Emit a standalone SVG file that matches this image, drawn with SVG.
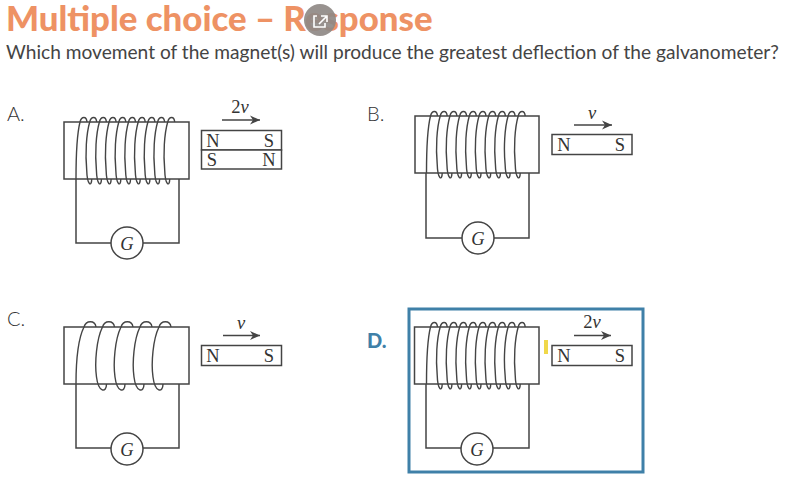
<svg xmlns="http://www.w3.org/2000/svg" width="800" height="492" viewBox="0 0 800 492">
<style>
.ln{fill:none;stroke:#444;stroke-width:1.5}
.box{fill:#fff;stroke:#444;stroke-width:1.5}
.coil{fill:none;stroke:#444;stroke-width:1.4}
.sr{font-family:"Liberation Serif",serif;font-size:18.5px;fill:#333;text-anchor:middle}
.it{font-style:italic}
.opt{font-family:Lato,"Liberation Sans",sans-serif;font-size:20px;font-weight:300;fill:#333}
</style>
<defs>
<marker id="ah" markerWidth="12" markerHeight="10" refX="10" refY="5" orient="auto" markerUnits="userSpaceOnUse"><path d="M0,0.500 L10,5 L0,9.500 L3,5 Z" fill="#444"/></marker>
<path id="t" d="M3.500,0 C3,-6 -2,-6 -3.500,0 C-7,12 -8,32 -6.500,48 C-6,64 -1.500,65 -1.500,57"/>
<path id="t1" d="M3.500,0 C3,-6 -2,-6 -3.500,0 C-7,14 -7.500,36 -7.500,57"/>
<path id="w" d="M6,0 C5,-7 -4,-7 -6,0 C-12,12 -14,36 -12,50 C-10,66 -2,66 -2,57"/>
<path id="w1" d="M6,0 C5,-7 -4,-7 -6,0 C-12,12 -14,36 -14,57"/>
<g id="dense" class="coil">
<use href="#t1" x="83.500"/><use href="#t" x="93.200"/><use href="#t" x="102.900"/><use href="#t" x="112.600"/><use href="#t" x="122.300"/><use href="#t" x="132"/><use href="#t" x="141.700"/><use href="#t" x="151.400"/><use href="#t" x="161.100"/><use href="#t" x="171.200"/>
</g>
<g id="sparse" class="coil">
<use href="#w1" x="90"/><use href="#w" x="108.500"/><use href="#w" x="127"/><use href="#w" x="146"/><use href="#w" x="165"/>
</g>
</defs>
<rect width="800" height="492" fill="#fff"/>
<text id="title" x="6" y="31" font-family="Lato,'Liberation Sans',sans-serif" font-size="34.800" font-weight="900" fill="#ee9264">Multiple choice – Response</text>
<text id="question" x="6" y="59" font-family="Lato,'Liberation Sans',sans-serif" font-size="19.150" fill="#444">Which movement of the magnet(s) will produce the greatest deflection of the galvanometer?</text>
<g id="icon"><circle cx="320" cy="20" r="16" fill="#8f8985" fill-opacity="0.92"/><path d="M317,16 H314 V27 H325 V23 M319,24 L326,17 M321,16 H327 V22" fill="none" stroke="#fff" stroke-width="1.600"/></g>
<g id="connectors">
<path class="ln" d="M76,179 V243 H111 M143,243 H179 V179"/>
<path class="ln" d="M426,173 V238 H462 M494,238 H529 V173"/>
<path class="ln" d="M76,384 V448 H111 M143,448 H179 V384"/>
<path class="ln" d="M426,384 V448 H461 M493,448 H529 V384"/>
<path class="ln" marker-end="url(#ah)" d="M222,120 H260"/>
<path class="ln" marker-end="url(#ah)" d="M574,125 H612"/>
<path class="ln" marker-end="url(#ah)" d="M223,335.500 H260"/>
<path class="ln" marker-end="url(#ah)" d="M574,335.500 H611"/>
</g>
<g id="label-a"><text class="opt" x="7" y="121">A.</text></g>
<g id="solenoid-a"><rect class="box" x="64" y="122" width="125" height="57"/><use href="#dense" y="122"/></g>
<g id="g-a"><circle class="box" cx="127" cy="243" r="16"/><text class="sr it" x="127" y="249.500">G</text></g>
<g id="magnet-a"><rect class="box" x="201.500" y="130.500" width="80" height="19.500"/><rect class="box" x="201.500" y="150" width="80" height="19"/><text class="sr" x="213" y="147">N</text><text class="sr" x="269" y="147">S</text><text class="sr" x="212" y="166">S</text><text class="sr" x="269" y="166">N</text><text class="sr" x="240" y="113">2<tspan class="it">v</tspan></text></g>
<g id="label-b"><text class="opt" x="367" y="121">B.</text></g>
<g id="solenoid-b"><rect class="box" x="415" y="116" width="124" height="57"/><use href="#dense" x="350.500" y="116"/></g>
<g id="g-b"><circle class="box" cx="478" cy="238" r="16"/><text class="sr it" x="478" y="244.500">G</text></g>
<g id="magnet-b"><rect class="box" x="552" y="134.500" width="80" height="20"/><text class="sr" x="564" y="151">N</text><text class="sr" x="620" y="151">S</text><text class="sr it" x="592" y="119">v</text></g>
<g id="label-c"><text class="opt" x="7" y="326">C.</text></g>
<g id="solenoid-c"><rect class="box" x="64" y="327" width="125" height="57"/><use href="#sparse" y="327"/></g>
<g id="g-c"><circle class="box" cx="127" cy="449" r="16"/><text class="sr it" x="127" y="455.500">G</text></g>
<g id="magnet-c"><rect class="box" x="201.500" y="345.500" width="80" height="20"/><text class="sr" x="213" y="362">N</text><text class="sr" x="269" y="362">S</text><text class="sr it" x="241" y="329">v</text></g>
<g id="answer-box"><rect x="409" y="309" width="234" height="163" fill="none" stroke="#3f80a8" stroke-width="3"/></g>
<g id="label-d"><text x="367" y="348" font-family="Lato,'Liberation Sans',sans-serif" font-size="20" font-weight="900" fill="#3f80a8">D.</text></g>
<g id="solenoid-d"><rect class="box" x="414.500" y="327" width="124.500" height="57"/><use href="#dense" x="350.500" y="327"/></g>
<g id="g-d"><circle class="box" cx="477" cy="449" r="16"/><text class="sr it" x="477" y="455.500">G</text></g>
<rect id="highlight" x="544" y="340" width="4" height="14" fill="#f0d84a"/>
<g id="magnet-d"><rect class="box" x="552" y="345.500" width="80" height="20"/><text class="sr" x="564" y="362">N</text><text class="sr" x="620" y="362">S</text><text class="sr" x="592" y="328">2<tspan class="it">v</tspan></text></g>
</svg>
